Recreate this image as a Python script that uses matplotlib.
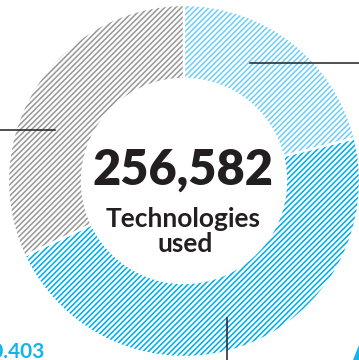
import matplotlib
matplotlib.use("Agg")
import matplotlib.pyplot as plt
import numpy as np
from matplotlib.patches import Polygon

# Share of technologies by group
groups = ["Group A", "Group B", "Group C"]
values = [54100, 120403, 82079]
total_label = "256,582"
blue_label = "120.403"

fill_colors = ["#6fcff6", "#00aeef", "#9a9a9a"]

W, H = 359, 360
fig = plt.figure(figsize=(W / 100, H / 100), dpi=100)

cx, cy, R = 184, 181, 176
ax = fig.add_axes([(cx - R) / W, 1 - (cy + R) / H, 2 * R / W, 2 * R / H])

plt.rcParams["hatch.linewidth"] = 1.15
ring = 0.42
wedges, _ = ax.pie(values, startangle=90, counterclock=False, radius=1,
                   wedgeprops=dict(width=ring, linewidth=0, facecolor="white"))
for w, c in zip(wedges, fill_colors):
    w.set_hatch("//////")
    w.set_edgecolor(c)
    w.set_linewidth(0)

# thin white separators between segments
ax.pie(values, startangle=90, counterclock=False, radius=1,
       wedgeprops=dict(width=ring, linewidth=1.6, edgecolor="white", facecolor="none"))

ax.set_xlim(-1, 1)
ax.set_ylim(-1, 1)
ax.set_aspect("equal")
ax.axis("off")

# leader lines
def polar(r, deg):
    a = np.deg2rad(deg)
    return r * np.cos(a), r * np.sin(a)

x0, y0 = polar(0.77, 60.8)
ax.plot([x0, 1.2], [y0, y0], color="#231f20", lw=1.1, clip_on=False)
x1, y1 = polar(0.79, 158.4)
ax.plot([x1, -1.2], [y1, y1], color="#231f20", lw=1.1, clip_on=False)
x2, y2 = polar(0.815, -72.6)
ax.plot([x2, x2], [y2, -1.2], color="#231f20", lw=1.1, clip_on=False)

font = "Lato"
dark = "#231f20"
fig.text(183 / W, 1 - 185 / H, total_label, ha="center", va="baseline",
         fontsize=35, fontweight="heavy", family=font, color=dark)
fig.text(183 / W, 1 - 227 / H, "Technologies", ha="center", va="baseline",
         fontsize=19, fontweight="bold", family=font, color=dark)
fig.text(185 / W, 1 - 252 / H, "used", ha="center", va="baseline",
         fontsize=19, fontweight="bold", family=font, color=dark)
fig.text(45 / W, 1 - 358 / H, blue_label, ha="right", va="baseline",
         fontsize=15, fontweight="bold", family=font, color="#12b5e8")

fig.patches.append(Polygon([(353 / W, 0), (359 / W, 15 / H), (1, 0)],
                           closed=True, transform=fig.transFigure,
                           facecolor="#12b5e8", edgecolor="none"))

fig.savefig("out.png", dpi=100)
